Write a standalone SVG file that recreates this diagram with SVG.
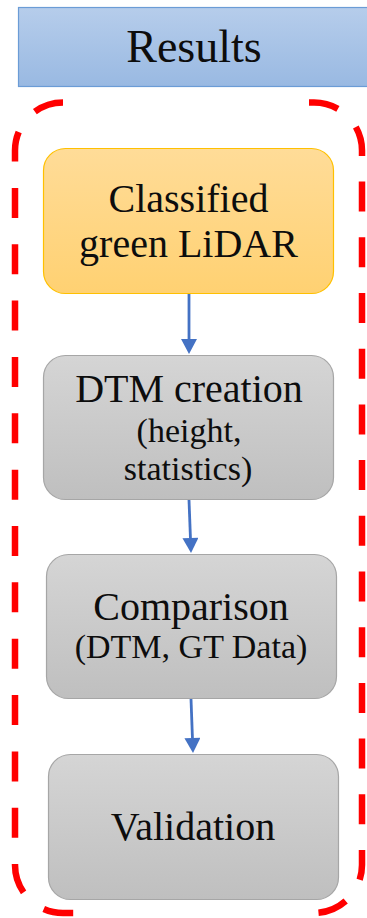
<svg xmlns="http://www.w3.org/2000/svg" width="367" height="918" viewBox="0 0 367 918">
  <style>
    text { font-family: 'Liberation Serif', 'DejaVu Serif', serif; }
    .label { fill: #0d0d0d; text-anchor: middle; }
    .main { font-size: 40px; }
    .sub { font-size: 34px; }
    .title { font-size: 46px; }
    .grey { fill: url(#greyFill); stroke: #a6a6a6; stroke-width: 1.2; }
    .frame { fill: none; stroke: #ff0000; stroke-width: 6.5; stroke-linecap: butt; }
    .link { fill: none; stroke: #4472c4; stroke-width: 2.8; }
  </style>
  <defs>
    <linearGradient id="blueFill" x1="0" y1="0" x2="0" y2="1">
      <stop offset="0" stop-color="#b6cdeb"/>
      <stop offset="1" stop-color="#99b9e2"/>
    </linearGradient>
    <linearGradient id="goldFill" x1="0" y1="0" x2="0" y2="1">
      <stop offset="0" stop-color="#ffdc98"/>
      <stop offset="1" stop-color="#ffd172"/>
    </linearGradient>
    <linearGradient id="greyFill" x1="0" y1="0" x2="0" y2="1">
      <stop offset="0" stop-color="#d5d5d5"/>
      <stop offset="1" stop-color="#bfbfbf"/>
    </linearGradient>
    <marker id="arrowHead" markerUnits="userSpaceOnUse" markerWidth="16" markerHeight="16" viewBox="0 0 15 16" refX="0" refY="8" orient="auto">
      <path d="M0,0 L15,8 L0,16 Z" fill="#4472c4"/>
    </marker>
  </defs>

  <!-- header bar -->
  <g id="results">
    <rect x="18.5" y="7.5" width="360" height="79" fill="url(#blueFill)" stroke="#6b9cd6" stroke-width="1.2"/>
    <text class="label title" font-family="Liberation Serif, DejaVu Serif, serif" x="194" y="62">Results</text>
  </g>

  <!-- red dashed bracket around the workflow -->
  <g id="frame">
    <path class="frame" stroke-dasharray="30 26.35" d="M63,102.5 A48,48 0 0 0 15,150.5 V865 A48,48 0 0 0 63,913 H75"/>
    <path class="frame" stroke-dasharray="30 25.7" d="M309,102.5 H314 A48,48 0 0 1 362,150.5 V865 A48,48 0 0 1 314,913 H309"/>
  </g>

  <g id="classified">
    <rect x="43.5" y="148.5" width="290" height="145" rx="22" fill="url(#goldFill)" stroke="#ffc000" stroke-width="1.2"/>
    <text class="label main" font-family="Liberation Serif, DejaVu Serif, serif" x="188.5" y="212">Classified</text>
    <text class="label main" font-family="Liberation Serif, DejaVu Serif, serif" x="188.5" y="257">green LiDAR</text>
  </g>

  <g id="dtm">
    <rect class="grey" x="43.5" y="355.5" width="290" height="144" rx="22"/>
    <text class="label main" font-family="Liberation Serif, DejaVu Serif, serif" x="189" y="402">DTM creation</text>
    <text class="label sub" font-family="Liberation Serif, DejaVu Serif, serif" x="189" y="442">(height,</text>
    <text class="label sub" font-family="Liberation Serif, DejaVu Serif, serif" x="188" y="480">statistics)</text>
  </g>

  <g id="comparison">
    <rect class="grey" x="46.5" y="554.5" width="290" height="144" rx="22"/>
    <text class="label main" font-family="Liberation Serif, DejaVu Serif, serif" x="191" y="620">Comparison</text>
    <text class="label sub" font-family="Liberation Serif, DejaVu Serif, serif" x="191" y="658">(DTM, GT Data)</text>
  </g>

  <g id="validation">
    <rect class="grey" x="48.5" y="754.5" width="290" height="145" rx="22"/>
    <text class="label main" font-family="Liberation Serif, DejaVu Serif, serif" x="193" y="840">Validation</text>
  </g>

  <g id="connectors">
    <path class="link" marker-end="url(#arrowHead)" d="M189,294 L189,339"/>
    <path class="link" marker-end="url(#arrowHead)" d="M189,500 L190.45,538"/>
    <path class="link" marker-end="url(#arrowHead)" d="M191,699 L192.45,738"/>
  </g>
</svg>
